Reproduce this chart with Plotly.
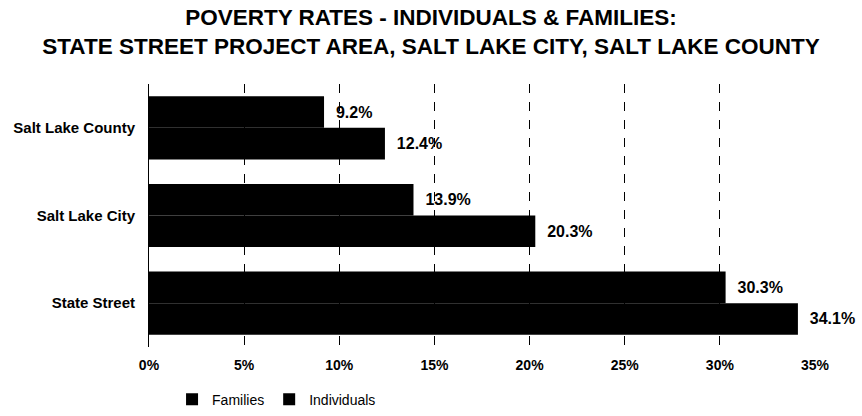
import plotly.graph_objects as go

categories = ["Salt Lake County", "Salt Lake City", "State Street"]
families = [9.2, 13.9, 30.3]
individuals = [12.4, 20.3, 34.1]
tick_vals = [0, 5, 10, 15, 20, 25, 30, 35]
tick_text = ["0%", "5%", "10%", "15%", "20%", "25%", "30%", "35%"]

FONT = "Liberation Sans, Arial, sans-serif"

fig = go.Figure()
for name, vals in [("Families", families), ("Individuals", individuals)]:
    fig.add_trace(go.Bar(
        y=categories, x=vals, name=name, orientation="h",
        marker=dict(color="black", line=dict(width=0)),
        texttemplate="\u00a0\u00a0%{x:.1f}%", textposition="outside",
        textfont=dict(family=FONT, size=16, color="black", weight="bold"),
        cliponaxis=False, hoverinfo="skip",
    ))

fig.update_layout(
    width=862, height=416,
    paper_bgcolor="white", plot_bgcolor="white",
    barmode="group", bargap=0.28, bargroupgap=0,
    margin=dict(l=148, r=46, t=84, b=69, autoexpand=False),
    title=dict(
        text="POVERTY RATES - INDIVIDUALS & FAMILIES:<br>STATE STREET PROJECT AREA, SALT LAKE CITY, SALT LAKE COUNTY",
        x=0.5, xref="container", xanchor="center",
        y=0.94, yref="container", yanchor="top",
        font=dict(family=FONT, size=22.5, color="black", weight="bold"),
    ),
    font=dict(family=FONT, color="black"),
    showlegend=True,
    legend=dict(
        orientation="h", x=0.036, xanchor="left", y=-0.2, yanchor="middle",
        font=dict(family=FONT, size=14, color="black"),
        itemwidth=30, traceorder="normal", bgcolor="rgba(0,0,0,0)",
    ),
)
fig.update_xaxes(
    range=[-0.05, 35.05], tickvals=tick_vals, ticktext=tick_text,
    showgrid=True, gridcolor="black", griddash="dash", gridwidth=1,
    zeroline=True, zerolinecolor="black", zerolinewidth=1,
    showline=False, ticks="", automargin=False,
    tickfont=dict(family=FONT, size=14, color="black", weight="bold"),
    ticklabelstandoff=8,
)
fig.update_yaxes(
    categoryorder="array", categoryarray=categories, autorange="reversed",
    showgrid=False, zeroline=False, showline=False, ticks="", automargin=False,
    tickfont=dict(family=FONT, size=15, color="black", weight="bold"),
    ticklabelstandoff=12,
)

fig.write_html("out.html", config={"displayModeBar": False},
               post_script="document.body.style.margin='0';")
